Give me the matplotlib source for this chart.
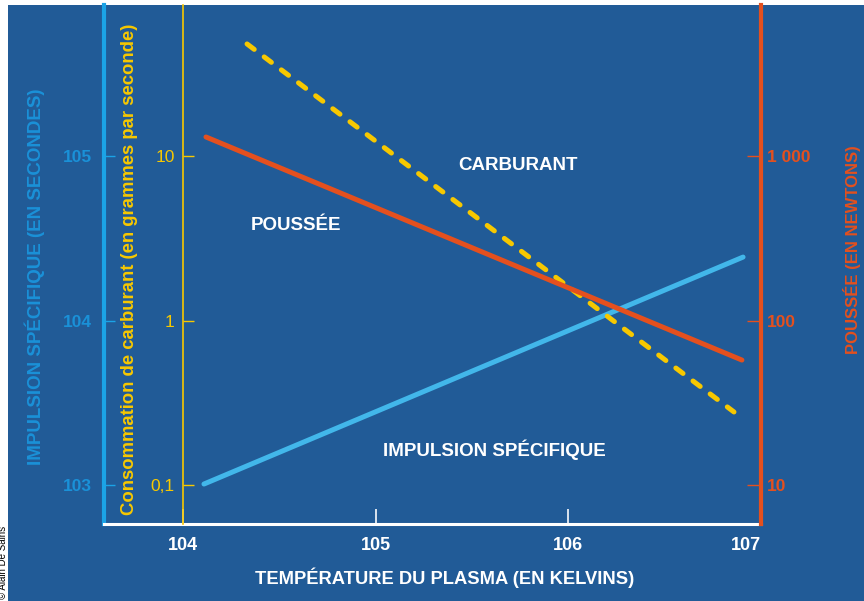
import matplotlib
matplotlib.use("Agg")
import matplotlib.pyplot as plt
from matplotlib.patches import Rectangle

# data (log-log, straight lines)
temp_impulse = [1.285e4, 8.07e6]
impulse = [1014, 24300]
temp_thrust = [1.316e4, 7.96e6]
thrust = [1305, 57.5]
temp_fuel = [2.15e4, 7.24e6]
fuel = [48, 0.278]

x_ticks = [1e4, 1e5, 1e6, 1e7]
x_labels = ["104", "105", "106", "107"]
imp_ticks = [1e3, 1e4, 1e5]
imp_labels = ["103", "104", "105"]
fuel_ticks = [0.1, 1, 10]
fuel_labels = ["0,1", "1", "10"]
thrust_ticks = [10, 100, 1000]
thrust_labels = ["10", "100", "1 000"]

BG = "#215b97"
BLUE_AX = "#1ba3e6"
BLUE_TXT = "#1a91d8"
BLUE_LINE = "#42b7ea"
RED = "#e4501e"
YELLOW = "#f7c800"
W, H = 864, 601

plt.rcParams["font.family"] = ["Liberation Sans", "DejaVu Sans"]
NARROW = ["Liberation Sans Narrow", "Liberation Sans", "DejaVu Sans"]

fig = plt.figure(figsize=(W / 100, H / 100), dpi=100, facecolor="white")
fig.patches.append(Rectangle((8 / W, 0), 1 - 8 / W, 1 - 5 / H, transform=fig.transFigure,
                             facecolor=BG, edgecolor="none", zorder=-10))

def fx(px):
    return px / W

def fy(py):
    return 1 - py / H

ax = fig.add_axes([fx(104), fy(524), fx(761) - fx(104), fy(5) - fy(524)])
ax.set_facecolor("none")
ax.set_xscale("log")
ax.set_yscale("log")
ax.set_xlim(10 ** 3.590, 1e7)
ylo, yhi = 2.763, 5.918
ax.set_ylim(10 ** ylo, 10 ** yhi)

ax_f = ax.twinx()
ax_f.set_yscale("log")
ax_f.set_ylim(10 ** (ylo - 4), 10 ** (yhi - 4))
ax_t = ax.twinx()
ax_t.set_yscale("log")
ax_t.set_ylim(10 ** (ylo - 2), 10 ** (yhi - 2))

for a in (ax, ax_f, ax_t):
    for s in a.spines.values():
        s.set_visible(False)
    a.minorticks_off()

# x axis
ax.spines["bottom"].set_visible(True)
ax.spines["bottom"].set_color("white")
ax.spines["bottom"].set_linewidth(2.2)
ax.set_xticks(x_ticks)
ax.set_xticklabels(x_labels, family=NARROW, fontweight="bold", fontsize=13, color="white")
ax.tick_params(axis="x", which="both", direction="in", length=11, width=1.3, color="#e8eef5", pad=9)
ax.xaxis.set_minor_locator(matplotlib.ticker.NullLocator())
ax.get_xticklabels()[-1].set_horizontalalignment("right")

# impulse axis (left, blue)
ax.spines["left"].set_visible(True)
ax.spines["left"].set_color(BLUE_AX)
ax.spines["left"].set_linewidth(3)
ax.set_yticks(imp_ticks)
ax.set_yticklabels(imp_labels, fontweight="bold", fontsize=12.5, color=BLUE_TXT)
ax.tick_params(axis="y", which="major", direction="in", length=8, width=1, color=BLUE_AX, pad=9)
ax.yaxis.set_minor_locator(matplotlib.ticker.NullLocator())

# fuel axis (yellow, at 10^4)
ax_f.spines["left"].set_visible(True)
ax_f.spines["left"].set_position(("data", 1e4))
ax_f.spines["left"].set_color(YELLOW)
ax_f.spines["left"].set_linewidth(1.2)
ax_f.yaxis.set_ticks_position("left")
ax_f.yaxis.set_label_position("left")
ax_f.set_yticks(fuel_ticks)
ax_f.set_yticklabels(fuel_labels, fontsize=12.5, color=YELLOW)
ax_f.tick_params(axis="y", which="major", direction="in", length=8, width=1, color=YELLOW, pad=6)
ax_f.yaxis.set_minor_locator(matplotlib.ticker.NullLocator())

# thrust axis (right, red)
ax_t.spines["right"].set_visible(True)
ax_t.spines["right"].set_color(RED)
ax_t.spines["right"].set_linewidth(3)
ax_t.set_yticks(thrust_ticks)
ax_t.set_yticklabels(thrust_labels, fontweight="bold", fontsize=12.5, color=RED)
ax_t.tick_params(axis="y", which="major", direction="in", length=10, width=1, color=RED, pad=4)
ax_t.yaxis.set_minor_locator(matplotlib.ticker.NullLocator())

# curves
ax.plot(temp_impulse, impulse, color=BLUE_LINE, lw=3.6, solid_capstyle="round", zorder=3)
ax_t.plot(temp_thrust, thrust, color=RED, lw=3.6, solid_capstyle="round", zorder=3)
fl, = ax_f.plot(temp_fuel, fuel, color=YELLOW, lw=3.6, dash_capstyle="round", zorder=4)
fl.set_dashes([1.8, 2.5])

# in-plot labels
lab = dict(color="white", fontweight="bold", fontsize=13.5, ha="center", va="center")
fig.text(fx(518), fy(165), "CARBURANT", **lab)
fig.text(fx(296), fy(226), "POUSSÉE", **lab)
fig.text(fx(494), fy(450), "IMPULSION SPÉCIFIQUE", **lab)

# axis titles
fig.text(fx(445), fy(578), "TEMPÉRATURE DU PLASMA (EN KELVINS)", family=NARROW,
         color="white", fontweight="bold", fontsize=13.2, ha="center", va="center")
fig.text(fx(35), fy(277), "IMPULSION SPÉCIFIQUE (EN SECONDES)", rotation=90,
         color=BLUE_TXT, fontweight="bold", fontsize=13.5, ha="center", va="center")
fig.text(fx(130), fy(269), "Consommation de carburant (en grammes par seconde)", rotation=90,
         color=YELLOW, fontweight="bold", fontsize=13.3, ha="center", va="center")
fig.text(fx(852), fy(250), "POUSSÉE (EN NEWTONS)", rotation=90,
         color=RED, fontweight="bold", fontsize=12, ha="center", va="center")

# credit along the left edge
fig.text(fx(3.5), fy(599), "© Alain De Sains", rotation=90, color="black",
         fontsize=7, ha="center", va="bottom")

fig.savefig("out.png", dpi=100, facecolor="white")
